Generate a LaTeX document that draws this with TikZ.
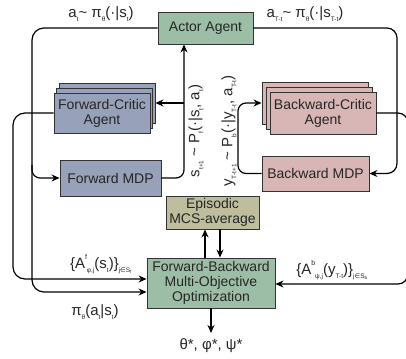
\documentclass[tikz,border=0pt]{standalone}
\usepackage{fontspec}
\setmainfont{Liberation Sans}
\newfontfamily\dv{DejaVu Sans}
\usetikzlibrary{arrows.meta}
\definecolor{cgreen}{HTML}{9DBEA6}
\definecolor{cblue}{HTML}{97A1B9}
\definecolor{cpink}{HTML}{D8B6B6}
\definecolor{colive}{HTML}{BEBE9E}
\newcommand\lo[1]{\raisebox{-0.5ex}{\fontsize{6.5}{6.5}\selectfont #1}}
\newcommand\hi[1]{\raisebox{1.1ex}{\fontsize{7}{7}\selectfont #1}}
\tikzset{
 box/.style={draw=black!80, line width=0.9pt, inner sep=0pt, align=center, font=\fontsize{14}{15}\selectfont, text=black!85},
 arr/.style={-{Stealth[length=8pt,width=7pt]}, line width=1.2pt},
 lbl/.style={font=\fontsize{15}{16}\selectfont, inner sep=0pt, text=black!85}
}
\begin{document}
\begin{tikzpicture}[x=1pt,y=-1pt]
\useasboundingbox (0,0) rectangle (406,358);
% boxes
\node[box, fill=cgreen, minimum width=95pt, minimum height=32pt] (actor) at (205.5,28) {Actor Agent};
\node[box, fill=cblue, minimum width=96pt, minimum height=40pt] (fc3) at (107,103) {};
\node[box, fill=cblue, minimum width=96pt, minimum height=40pt] (fc2) at (104.5,108) {};
\node[box, fill=cblue, minimum width=96pt, minimum height=40pt] (fc) at (102,113) {Forward-Critic\\Agent};
\node[box, fill=cpink, minimum width=106pt, minimum height=42pt] (bc3) at (315,103) {};
\node[box, fill=cpink, minimum width=106pt, minimum height=42pt] (bc2) at (319,108) {};
\node[box, fill=cpink, minimum width=106pt, minimum height=42pt] (bc) at (323,113) {Backward-Critic\\Agent};
\node[box, fill=cblue, minimum width=101pt, minimum height=36pt] (fmdp) at (110.5,178) {Forward MDP};
\node[box, fill=cpink, minimum width=107pt, minimum height=35pt] (bmdp) at (315.5,173.5) {Backward MDP};
\node[box, fill=colive, minimum width=93pt, minimum height=33pt] (epi) at (212.5,212.5) {Episodic\\MCS-average};
\node[box, fill=cgreen, minimum width=128pt, minimum height=50pt] (opt) at (211,283) {Forward-Backward\\Multi-Objective\\Optimization};
% labels
\node[lbl] (l1) at (101,14) {a\lo{t}\textasciitilde\ π\lo{θ}(·|s\lo{t})};
\node[lbl] (l2) at (305,14) {a\lo{T-t}\textasciitilde\ π\lo{θ}(·|s\lo{T-t})};
\node[lbl, rotate=90] (l3) at (196,131) {s\lo{t+1} \textasciitilde\ P\lo{f}(·|s\lo{t}, a\lo{t})};
\node[lbl, rotate=90] (l4) at (229,131) {y\lo{T-t+1} \textasciitilde\ P\lo{b}(·|y\lo{T-t}, a\lo{T-t})};
\node[lbl] (l5) at (101,264) {\{A\hi{f}\lo{φ,j}(s\lo{t})\}\lo{j{\dv∈}S\textsubscript{f}}};
\node[lbl] (l6) at (95,312) {π\lo{θ}(a\lo{t}|s\lo{t})};
\node[lbl] (l7) at (332,270) {\{A\hi{b}\lo{ψ,j}(y\lo{T-t})\}\lo{j{\dv∈}S\textsubscript{b}}};
\node[lbl] (res) at (211,346) {θ*, φ*, ψ*};
% connectors
\draw[arr, rounded corners=12] (actor.west) -| (32,292) -- (opt.west |- 0,292);
\draw[arr, rounded corners=8] (32,165) |- (fmdp.west);
\draw[arr, rounded corners=12] (fc.west) -| (13,279) -- (opt.west |- 0,279);
\draw[arr, rounded corners=8] (fmdp.east) -| (184,0 |- actor.south);
\draw[arr] (184,103) -- (fc3.east);
\draw[arr, rounded corners=10] (actor.east) -| (397,173.5) -- (bmdp.east);
\draw[arr, rounded corners=8] (bmdp.west) -| (238,103) -- (bc3.west);
\draw[arr, rounded corners=10] (bc.east) -| (408,284) -- (opt.east |- 0,284);
\draw[arr] (205,0 |- opt.north) -- (205,0 |- epi.south);
\draw[arr] (220,0 |- epi.south) -- (220,0 |- opt.north);
\draw[arr] (opt.south) -- (211,333);
\end{tikzpicture}
\end{document}
